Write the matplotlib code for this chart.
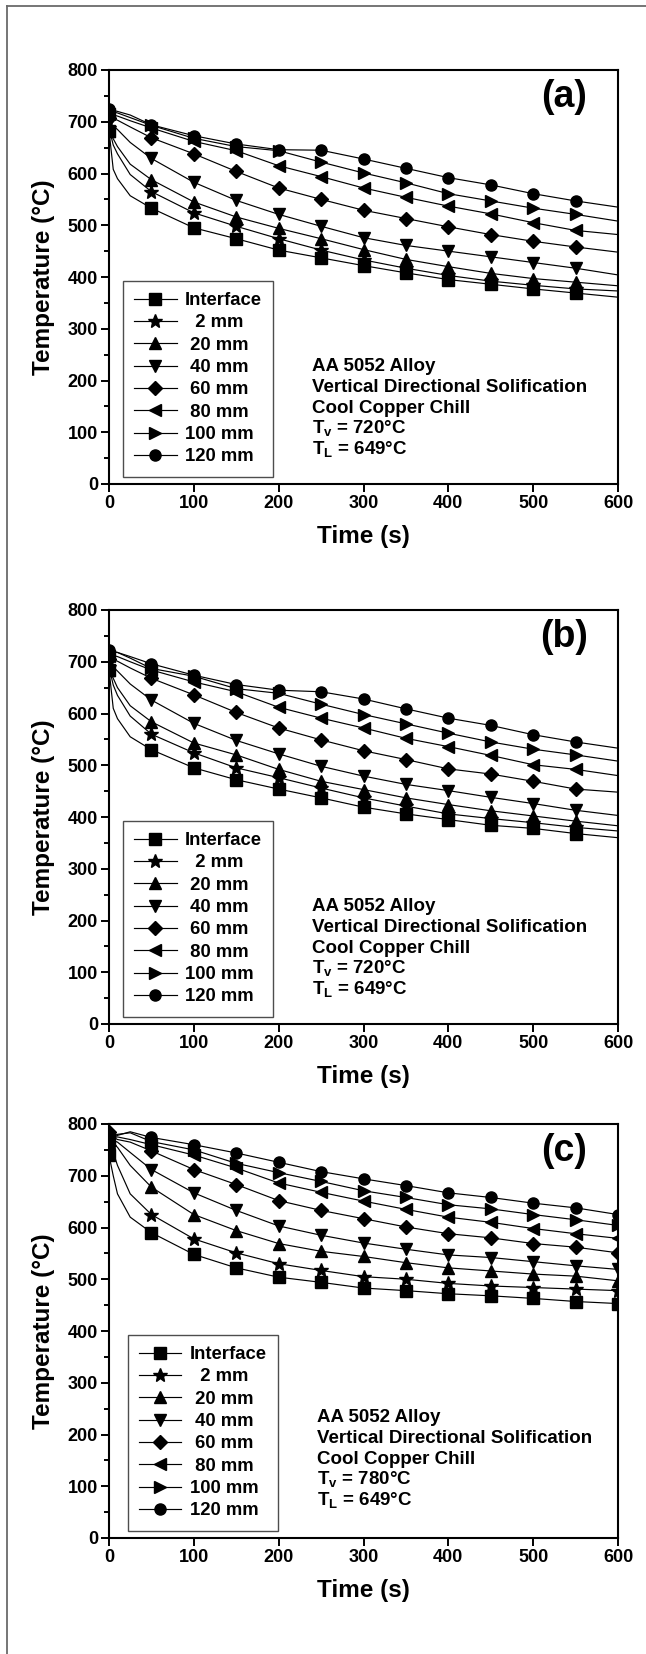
import numpy as np
import matplotlib
matplotlib.use("Agg")
import matplotlib.pyplot as plt
from matplotlib.lines import Line2D

plt.rcParams['font.family'] = ['Liberation Sans', 'DejaVu Sans']
plt.rcParams['font.weight'] = 'bold'
plt.rcParams['mathtext.fontset'] = 'custom'
plt.rcParams['mathtext.bf'] = 'Liberation Sans:bold'
plt.rcParams['mathtext.rm'] = 'Liberation Sans:bold'

# time points (s)
times = [0, 5, 10, 25, 50, 100, 150, 200, 250, 300, 350, 400, 450, 500, 550, 600]

labels = ["Interface", "  2 mm", " 20 mm", " 40 mm", " 60 mm", " 80 mm", "100 mm", "120 mm"]
markers = ['s', '*', '^', 'v', 'D', '<', '>', 'o']

# panel (a)
temps_a = [
    [683, 608, 590, 557, 533, 495, 474, 452, 437, 422, 408, 395, 386, 377, 369, 361],
    [688, 655, 638, 598, 565, 524, 498, 474, 452, 433, 417, 403, 392, 384, 377, 373],
    [682, 667, 652, 618, 588, 545, 516, 494, 474, 453, 434, 420, 407, 397, 390, 383],
    [700, 692, 685, 660, 629, 583, 548, 521, 498, 476, 461, 450, 439, 428, 417, 404],
    [708, 706, 703, 690, 669, 638, 604, 572, 550, 529, 513, 497, 482, 469, 458, 448],
    [715, 713, 711, 702, 688, 662, 644, 615, 594, 572, 554, 537, 522, 505, 490, 482],
    [720, 719, 717, 708, 693, 668, 652, 644, 622, 601, 582, 561, 547, 533, 521, 508],
    [724, 722, 720, 713, 694, 673, 657, 646, 645, 628, 610, 592, 578, 561, 547, 535],
]

# panel (b)
temps_b = [
    [685, 610, 590, 555, 530, 495, 472, 454, 437, 419, 406, 395, 384, 378, 368, 360],
    [690, 655, 635, 595, 560, 524, 495, 476, 456, 437, 421, 406, 397, 389, 380, 373],
    [685, 668, 650, 615, 584, 543, 520, 492, 469, 453, 437, 424, 412, 402, 392, 383],
    [698, 690, 682, 657, 626, 581, 548, 522, 498, 479, 463, 451, 438, 426, 413, 403],
    [705, 704, 701, 688, 668, 636, 602, 572, 549, 528, 511, 493, 483, 469, 454, 448],
    [712, 712, 710, 700, 684, 661, 642, 612, 591, 572, 552, 536, 519, 501, 492, 480],
    [715, 718, 718, 707, 687, 672, 648, 639, 618, 598, 580, 562, 545, 531, 520, 508],
    [722, 720, 718, 710, 696, 674, 656, 645, 642, 628, 609, 591, 577, 559, 545, 533],
]

# panel (c)
temps_c = [
    [740, 700, 665, 620, 590, 548, 522, 504, 494, 483, 478, 472, 468, 463, 457, 453],
    [755, 745, 720, 665, 625, 578, 551, 530, 517, 505, 500, 492, 487, 484, 481, 478],
    [765, 762, 755, 720, 678, 625, 594, 569, 554, 544, 532, 522, 516, 510, 506, 497],
    [770, 768, 765, 745, 712, 667, 633, 603, 585, 570, 558, 547, 542, 534, 526, 519],
    [785, 775, 770, 765, 748, 712, 683, 652, 633, 617, 601, 588, 580, 569, 562, 551],
    [770, 774, 775, 770, 760, 740, 715, 686, 668, 651, 635, 620, 610, 598, 588, 579],
    [770, 777, 780, 783, 766, 750, 724, 706, 689, 671, 658, 644, 636, 625, 615, 604],
    [765, 774, 778, 785, 774, 760, 744, 726, 708, 694, 681, 667, 658, 647, 638, 625],
]

panels = [
    ("(a)", temps_a, "720", False),
    ("(b)", temps_b, "720", False),
    ("(c)", temps_c, "780", True),
]

W, H = 646, 1654
fig = plt.figure(figsize=(W / 100, H / 100), dpi=100)

# grey outer frame (left and top edges)
fig.add_artist(Line2D([7 / W, 7 / W], [0, 1 - 6 / H], color='#6a6a6a', lw=1.3))
fig.add_artist(Line2D([7 / W, 1], [1 - 6 / H, 1 - 6 / H], color='#6a6a6a', lw=1.3))

bottoms = [484, 1024, 1538]
t = np.array(times)

for (tag, temps, tv, mark_end), bpix in zip(panels, bottoms):
    ax = fig.add_axes([109 / W, 1 - bpix / H, 509 / W, 414 / H])
    if mark_end:
        idx = [i for i, v in enumerate(times) if v % 50 == 0]
    else:
        idx = [i for i, v in enumerate(times) if v % 50 == 0 and v < 600]
    for vals, lab, m in zip(temps, labels, markers):
        ms = 10.5 if m == '*' else (7 if m == 'D' else 8)
        ax.plot(t, vals, color='black', lw=0.85, marker=m, ms=ms,
                markevery=idx, label=lab)
    ax.set_xlim(0, 600)
    ax.set_ylim(0, 800)
    ax.set_xticks(range(0, 601, 100))
    ax.set_yticks(range(0, 801, 100))
    ax.set_yticks(range(50, 800, 100), minor=True)
    ax.tick_params(axis='both', which='major', direction='out', length=6,
                   width=1.4, labelsize=13, pad=2)
    ax.tick_params(axis='y', which='minor', direction='out', length=3.5, width=1.4)
    for s in ax.spines.values():
        s.set_linewidth(1.5)
    ax.set_xlabel("Time (s)", fontsize=17.5, fontweight='bold', labelpad=9)
    ax.set_ylabel("Temperature (\u00b0C)", fontsize=17.5, fontweight='bold', labelpad=9)
    ax.text(0.895, 0.935, tag, transform=ax.transAxes, fontsize=27,
            fontweight='bold', ha='center', va='center')
    info = ["AA 5052 Alloy", "Vertical Directional Solification", "Cool Copper Chill",
            "T$_\\mathbf{v}$ = " + tv + "\u00b0C", "T$_\\mathbf{L}$ = 649\u00b0C"]
    x0 = 0.409 if mark_end else 0.399
    y0 = 0.29 if mark_end else 0.283
    for k, line in enumerate(info):
        ax.text(x0, y0 - k * 0.0502, line, transform=ax.transAxes, fontsize=13.5,
                fontweight='bold', ha='left', va='center')
    leg = ax.legend(loc='lower left',
                    bbox_to_anchor=(0.037 if mark_end else 0.0275, 0.018), fontsize=13.3,
                    frameon=True, fancybox=False, edgecolor='#222222',
                    handlelength=2.3, handletextpad=0.45, labelspacing=0.29,
                    borderpad=0.6, borderaxespad=0)
    leg.get_frame().set_linewidth(1.0)

fig.savefig("out.png", dpi=100)
